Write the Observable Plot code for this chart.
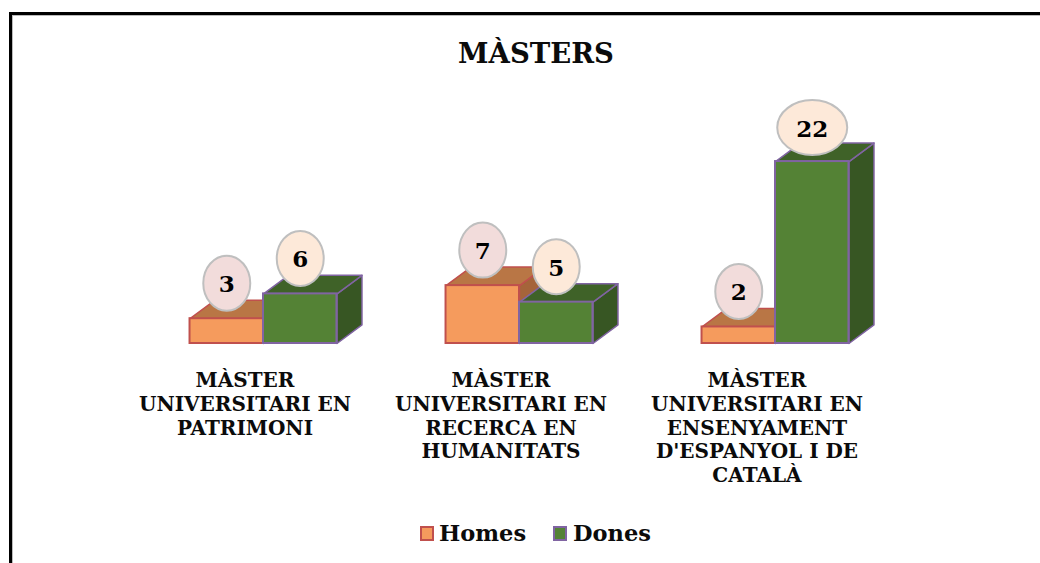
<!DOCTYPE html>
<html><head><meta charset="utf-8">
<script src="https://cdn.jsdelivr.net/npm/d3@7"></script>
<script src="https://cdn.jsdelivr.net/npm/@observablehq/plot@0.6"></script>
<style>
html,body{margin:0;padding:0;background:#fff;overflow:hidden}
#page{position:relative;width:1040px;height:563px;font-family:"DejaVu Serif",serif;font-weight:bold;color:#0b0b0b}
#frame{position:absolute;left:9px;top:12px;right:0;bottom:0;border-left:3px solid #000;border-top:3px solid #000;box-shadow:inset 1px 1px 0 #bbb}
#title{position:absolute;left:0;top:0;width:1072px;height:90px;box-sizing:border-box;padding-top:36px;text-align:center;font-size:27.5px;line-height:34px}
#chart{position:absolute;left:0;top:90px}
#chart svg{display:block;background:transparent}
#legend{position:absolute;left:0;top:516px;width:1040px;height:34px;font-size:22.5px;line-height:34px}
#legend span{position:absolute;top:0}
#legend i{position:absolute;top:10px;width:10px;height:11px;border:2px solid}
</style></head>
<body>
<div id="page">
<div id="frame"></div>
<div id="title">MÀSTERS</div>
<div id="chart"></div>
<div id="legend"></div>
</div>
<script>
const categories = ["MÀSTER\nUNIVERSITARI EN\nPATRIMONI","MÀSTER\nUNIVERSITARI EN\nRECERCA EN\nHUMANITATS","MÀSTER\nUNIVERSITARI EN\nENSENYAMENT\nD'ESPANYOL I DE\nCATALÀ"];
const homes = [3,7,2];
const dones = [6,5,22];
const seriesNames = ["Homes","Dones"];

const barW = 0.287, depthX = 0.0977, depthY = 2.24;
const colors = {
  Homes:{front:"#f59b5d",top:"#b97645",side:"#a5643a",stroke:"#c0504d",bubble:"#f2dcdb"},
  Dones:{front:"#548235",top:"#3f6228",side:"#375623",stroke:"#8064a2",bubble:"#fde9d9"}
};
function rows(values,name,off){return values.map((v,i)=>({i,v,name,x1:i+off,x2:i+off+barW,xc:i+off+barW/2}));}
const H = rows(homes,"Homes",-barW), D = rows(dones,"Dones",0);
function faces(rs,kind){
  return rs.flatMap(r=>{
    const id=r.name+r.i;
    return kind==="top"
      ? [[r.x1,r.v],[r.x1+depthX,r.v+depthY],[r.x2+depthX,r.v+depthY],[r.x2,r.v]].map(([x,y])=>({id,x,y}))
      : [[r.x2,0],[r.x2+depthX,depthY],[r.x2+depthX,r.v+depthY],[r.x2,r.v]].map(([x,y])=>({id,x,y}));
  });
}
function ellipse(rx,ry){
  const k=0.5523;
  return {draw(c){
    c.moveTo(rx,0);
    c.bezierCurveTo(rx,k*ry,k*rx,ry,0,ry);
    c.bezierCurveTo(-k*rx,ry,-rx,k*ry,-rx,0);
    c.bezierCurveTo(-rx,-k*ry,-k*rx,-ry,0,-ry);
    c.bezierCurveTo(k*rx,-ry,rx,-k*ry,rx,0);
    c.closePath();
  }};
}
function series(rs){
  const s=colors[rs[0].name];
  return [
    Plot.line(faces(rs,"side"),{x:"x",y:"y",z:"id",fill:s.side,stroke:s.stroke,strokeWidth:1.5,curve:"linear-closed"}),
    Plot.line(faces(rs,"top"),{x:"x",y:"y",z:"id",fill:s.top,stroke:s.stroke,strokeWidth:1.5,curve:"linear-closed"}),
    Plot.rect(rs,{x1:"x1",x2:"x2",y1:0,y2:"v",fill:s.front,stroke:s.stroke,strokeWidth:2})
  ];
}
function bubbles(rs){
  const s=colors[rs[0].name];
  const narrow=rs.filter(r=>r.v<10), wide=rs.filter(r=>r.v>=10);
  const o={x:"xc",y:"v",r:10,fill:s.bubble,stroke:"#bfbfbf",strokeWidth:2};
  const t={x:"xc",y:"v",text:d=>String(d.v),fontSize:23,fontWeight:"bold",fill:"#000",fontFamily:"'DejaVu Serif',serif"};
  return [
    Plot.dot(narrow,{...o,dy:-35.5,symbol:ellipse(23.5,27.5)}),
    Plot.dot(wide,{...o,dy:-34,symbol:ellipse(35,27.5)}),
    Plot.text(narrow,{...t,dy:-34}),
    Plot.text(wide,{...t,dy:-32})
  ];
}
const plot = Plot.plot({
  width:1040,height:420,margin:0,
  x:{type:"linear",domain:[-1,3],range:[7,1031],axis:null},
  y:{type:"linear",domain:[0,30],range:[253,4.9],axis:null},
  style:{background:"transparent",overflow:"visible"},
  marks:[
    ...series(H),
    ...series(D),
    ...bubbles(H),
    ...bubbles(D),
    Plot.text(categories,{x:(d,i)=>i-0.0724,y:()=>0,text:d=>d,lineAnchor:"top",dy:27,lineHeight:1.185,textAnchor:"middle",fontSize:20,fontWeight:"bold",fill:"#0b0b0b",fontFamily:"'DejaVu Serif',serif"})
  ]
});
document.getElementById("chart").appendChild(plot);

const legend=document.getElementById("legend");
[[420,439],[553,573]].forEach(([sx,tx],i)=>{
  const name=seriesNames[i],s=colors[name];
  const sw=document.createElement("i");
  sw.style.left=sx+"px";sw.style.background=s.front;sw.style.borderColor=s.stroke;
  legend.appendChild(sw);
  const t=document.createElement("span");
  t.style.left=tx+"px";t.textContent=name;legend.appendChild(t);
});
</script>
</body></html>
